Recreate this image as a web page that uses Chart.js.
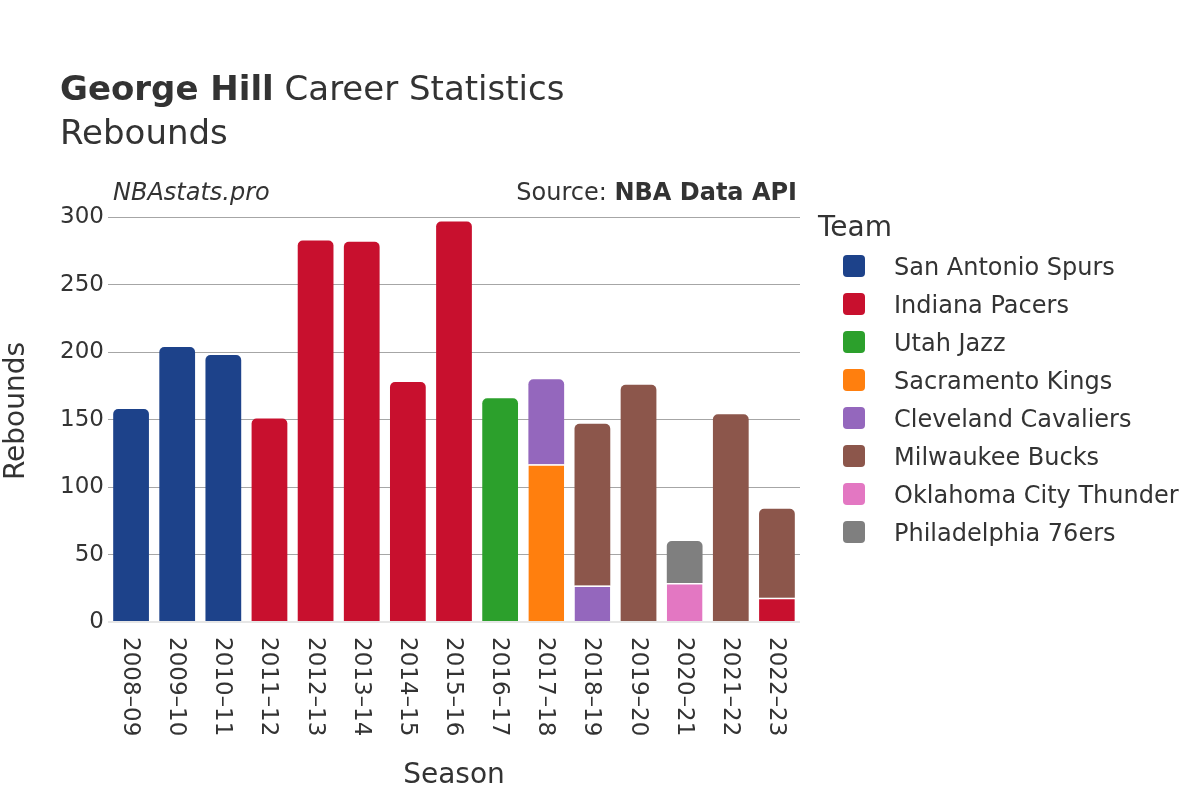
<!DOCTYPE html>
<html>
<head>
<meta charset="utf-8">
<script src="https://cdn.jsdelivr.net/npm/chart.js@4.4.1/dist/chart.umd.min.js"></script>
<style>
html,body{margin:0;padding:0;background:#ffffff;}
#wrap{width:1200px;height:800px;position:relative;}
</style>
</head>
<body>
<div id="wrap"><canvas id="c" width="1200" height="800"></canvas></div>
<script>
// ---- data ----
const seasons = ["2008–09","2009–10","2010–11","2011–12","2012–13","2013–14","2014–15","2015–16","2016–17","2017–18","2018–19","2019–20","2020–21","2021–22","2022–23"];
const teamNames = ["San Antonio Spurs","Indiana Pacers","Utah Jazz","Sacramento Kings","Cleveland Cavaliers","Milwaukee Bucks","Oklahoma City Thunder","Philadelphia 76ers"];
const teamColors = ["#1d428a","#c8102e","#2ca02c","#ff7f0e","#9467bd","#8c564b","#e377c2","#7f7f7f"];
const sanAntonioSpurs     = [158,204,198,null,null,null,null,null,null,null,null,null,null,null,null];
const indianaPacers       = [null,null,null,151,283,282,178,297,null,null,null,null,null,null,18];
const utahJazz            = [null,null,null,null,null,null,null,null,166,null,null,null,null,null,null];
const sacramentoKings     = [null,null,null,null,null,null,null,null,null,117,null,null,null,null,null];
const clevelandCavaliers  = [null,null,null,null,null,null,null,null,null,63,27,null,null,null,null];
const milwaukeeBucks      = [null,null,null,null,null,null,null,null,null,null,120,176,null,154,66];
const oklahomaCityThunder = [null,null,null,null,null,null,null,null,null,null,null,null,29,null,null];
const philadelphia76ers   = [null,null,null,null,null,null,null,null,null,null,null,null,31,null,null];
const teamValues = [sanAntonioSpurs,indianaPacers,utahJazz,sacramentoKings,clevelandCavaliers,milwaukeeBucks,oklahomaCityThunder,philadelphia76ers];
const yTickValues = [0,50,100,150,200,250,300];

const FONT = '"DejaVu Sans", "Liberation Sans", sans-serif';
const TEXT = '#333333';

function topDatasetIndex(index){
  let top = -1;
  teamValues.forEach((arr,d)=>{ if(arr[index]!=null && arr[index]>0) top = d; });
  return top;
}

const datasets = teamNames.map((name,d)=>({
  label: name,
  data: teamValues[d],
  backgroundColor: teamColors[d],
  borderColor: '#ffffff',
  borderWidth: ctx => (topDatasetIndex(ctx.dataIndex)===d ? 0 : {top:1.5,left:0,right:0,bottom:0}),
  borderSkipped: 'start',
  borderRadius: ctx => (topDatasetIndex(ctx.dataIndex)===d ? {topLeft:5,topRight:5,bottomLeft:0,bottomRight:0} : 0),
  barPercentage: 0.775,
  categoryPercentage: 1.0
}));

const textPlugin = {
  id: 'textPlugin',
  afterDraw(chart){
    const ctx = chart.ctx;
    ctx.save();
    ctx.fillStyle = TEXT;
    ctx.textAlign = 'left';
    ctx.textBaseline = 'alphabetic';
    // title
    ctx.font = 'bold 34px ' + FONT;
    ctx.fillText('George Hill', 60, 100);
    const w1 = ctx.measureText('George Hill').width;
    ctx.font = '34px ' + FONT;
    ctx.fillText(' Career Statistics', 60 + w1, 100);
    ctx.fillText('Rebounds', 60, 144);
    // watermark & source
    ctx.font = 'italic 24px ' + FONT;
    ctx.fillText('NBAstats.pro', 113, 200);
    ctx.font = 'bold 24px ' + FONT;
    const bw = ctx.measureText('NBA Data API').width;
    ctx.textAlign = 'right';
    ctx.fillText('NBA Data API', 797, 200);
    ctx.font = '24px ' + FONT;
    ctx.fillText('Source: ', 797 - bw, 200);
    // x tick labels (rotated clockwise)
    const xs = chart.scales.x;
    ctx.font = '23px ' + FONT;
    ctx.textAlign = 'left';
    ctx.textBaseline = 'middle';
    chart.data.labels.forEach((s,i)=>{
      const x = xs.getPixelForValue(i);
      ctx.save();
      ctx.translate(x, xs.top + 15);
      ctx.rotate(Math.PI/2);
      ctx.fillText(s, 0, 1);
      ctx.restore();
    });
    // legend
    ctx.textBaseline = 'alphabetic';
    ctx.textAlign = 'left';
    ctx.font = '28px ' + FONT;
    ctx.fillText('Team', 818, 236);
    ctx.font = '24px ' + FONT;
    chart.data.datasets.forEach((ds,i)=>{
      const cy = 266 + i*38;
      ctx.fillStyle = ds.backgroundColor;
      ctx.beginPath();
      if (ctx.roundRect) ctx.roundRect(843, cy-11, 22, 22, 4); else ctx.rect(843, cy-11, 22, 22);
      ctx.fill();
      ctx.fillStyle = TEXT;
      ctx.fillText(ds.label, 894, cy + 8.5);
    });
    ctx.restore();
  }
};

new Chart(document.getElementById('c'), {
  type: 'bar',
  data: { labels: seasons, datasets },
  options: {
    responsive: false,
    animation: false,
    devicePixelRatio: 1,
    layout: { padding: { left: 0, right: 400, top: 200, bottom: 0 } },
    plugins: {
      legend: { display: false },
      title: { display: false },
      tooltip: { enabled: false }
    },
    scales: {
      x: {
        type: 'category',
        stacked: true,
        offset: true,
        grid: { display: false, drawTicks: false },
        border: { display: false },
        ticks: { display: false },
        title: { display: true, text: 'Season', color: TEXT, font: { family: FONT, size: 28 }, padding: { top: 0, bottom: 7 } },
        afterFit(scale){ scale.height = 178; }
      },
      y: {
        stacked: true,
        min: 0,
        max: 313,
        grid: {
          drawTicks: false,
          color: c => (c.tick && c.tick.value === 0 ? '#e6e6e6' : '#a6a6a6'),
          lineWidth: c => (c.tick && c.tick.value === 0 ? 2 : 1)
        },
        border: { display: false },
        afterBuildTicks(scale){ scale.ticks = yTickValues.map(v=>({value:v})); },
        ticks: { color: TEXT, font: { family: FONT, size: 23 }, padding: 4 },
        title: { display: true, text: 'Rebounds', color: TEXT, font: { family: FONT, size: 28 }, padding: { top: 0, bottom: 0 } },
        afterFit(scale){ scale.width = 108; }
      }
    }
  },
  plugins: [textPlugin]
});
</script>
</body>
</html>
